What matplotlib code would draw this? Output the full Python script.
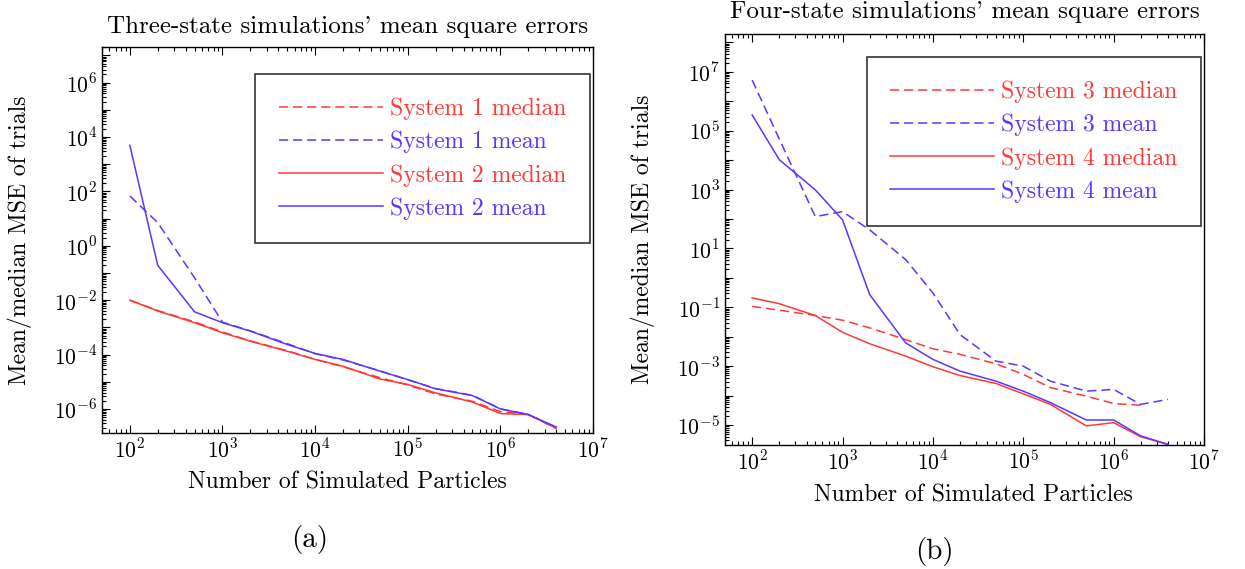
import numpy as np
import matplotlib
matplotlib.use('Agg')
import matplotlib.pyplot as plt
from matplotlib.ticker import FixedLocator, FuncFormatter, LogLocator, NullFormatter

plt.rcParams['font.family'] = ['cmr10', 'DejaVu Serif']
plt.rcParams['mathtext.fontset'] = 'cm'
plt.rcParams['axes.unicode_minus'] = False
plt.rcParams['axes.formatter.use_mathtext'] = True

# Number of simulated particles
particles = [1e2, 2e2, 5e2, 1e3, 2e3, 5e3, 1e4, 2e4, 5e4, 1e5, 2e5, 5e5, 1e6, 2e6, 4e6]

# Three-state system, log10 of MSE
sys1_median = [-2.0, -2.38, -2.80, -3.17, -3.50, -3.86, -4.18, -4.45, -4.85, -5.12, -5.45, -5.72, -6.10, -6.20, -6.70]
sys1_mean = [1.83, 0.85, -1.18, -2.81, -3.13, -3.60, -3.97, -4.20, -4.60, -4.93, -5.25, -5.50, -6.00, -6.20, -6.72]
sys2_median = [-2.0, -2.40, -2.83, -3.20, -3.51, -3.88, -4.18, -4.43, -4.90, -5.10, -5.41, -5.75, -6.17, -6.21, -6.70]
sys2_mean = [3.69, -0.72, -2.43, -2.83, -3.14, -3.63, -3.96, -4.18, -4.61, -4.92, -5.26, -5.51, -6.00, -6.21, -6.66]

# Four-state system, log10 of MSE
sys3_median = [-0.97, -1.10, -1.28, -1.44, -1.70, -2.10, -2.41, -2.60, -2.92, -3.28, -3.73, -4.02, -4.27, -4.33]
sys3_mean = [6.72, 4.71, 2.08, 2.25, 1.63, 0.62, -0.51, -1.93, -2.83, -3.00, -3.51, -3.85, -3.79, -4.30, -4.13]
sys4_median = [-0.68, -0.88, -1.28, -1.85, -2.24, -2.66, -3.02, -3.32, -3.59, -3.94, -4.30, -5.03, -4.92, -5.40, -5.66]
sys4_mean = [5.53, 4.01, 2.99, 1.97, -0.57, -2.21, -2.77, -3.17, -3.51, -3.85, -4.24, -4.83, -4.83, -5.37, -5.66]

RED = '#ff3838'
BLUE = '#5a36ff'
FS = 17
DASH = (0, (6, 3.2))

fig = plt.figure(figsize=(12.45, 5.69), dpi=100)
ax1 = fig.add_axes([0.0819, 0.239, 0.3944, 0.678])
ax2 = fig.add_axes([0.5823, 0.218, 0.3847, 0.722])


def style_axis(ax, ylim, label_parity):
    ax.set_xscale('log')
    ax.set_yscale('log')
    ax.set_xlim(50, 1e7)
    ax.set_ylim(*ylim)
    ax.xaxis.set_major_locator(FixedLocator([10.0 ** k for k in range(2, 8)]))
    ax.xaxis.set_minor_locator(LogLocator(base=10, subs=np.arange(2, 10), numticks=30))
    ax.xaxis.set_minor_formatter(NullFormatter())
    ax.xaxis.set_major_formatter(FuncFormatter(lambda v, p: r'$10^{%d}$' % round(np.log10(v))))
    ax.yaxis.set_major_locator(FixedLocator([10.0 ** k for k in range(-9, 10)]))
    ax.yaxis.set_minor_locator(LogLocator(base=10, subs=np.arange(2, 10), numticks=40))
    ax.yaxis.set_minor_formatter(NullFormatter())

    def yfmt(v, p):
        k = int(round(np.log10(v)))
        return r'$10^{%d}$' % k if k % 2 == label_parity else ''
    ax.yaxis.set_major_formatter(FuncFormatter(yfmt))
    ax.tick_params(which='both', direction='in', top=True, right=False, labelsize=15.5, width=0.8)
    ax.tick_params(which='major', length=6)
    ax.tick_params(which='minor', length=3)
    for s in ax.spines.values():
        s.set_linewidth(1.0)
    ax.set_xlabel('Number of Simulated Particles', fontsize=FS)
    ax.set_ylabel('Mean/median MSE of trials', fontsize=FS)


def add_legend(ax, anchor):
    leg = ax.legend(loc='upper right', bbox_to_anchor=anchor, fontsize=FS, frameon=True,
                    fancybox=False, edgecolor='black', handlelength=4.4, handletextpad=0.3,
                    labelspacing=0.45, borderpad=1.0, borderaxespad=0)
    leg.get_frame().set_linewidth(1.2)
    for line, text in zip(leg.get_lines(), leg.get_texts()):
        text.set_color(line.get_color())


p = np.array(particles)
ax1.plot(p, 10 ** np.array(sys1_median), color=RED, ls=DASH, lw=1.1, label='System 1 median')
ax1.plot(p, 10 ** np.array(sys1_mean), color=BLUE, ls=DASH, lw=1.1, label='System 1 mean')
ax1.plot(p, 10 ** np.array(sys2_median), color=RED, lw=1.1, label='System 2 median')
ax1.plot(p, 10 ** np.array(sys2_mean), color=BLUE, lw=1.1, label='System 2 mean')
style_axis(ax1, (1.3e-7, 2e7), 0)
ax1.xaxis.set_label_coords(0.5, -0.10)
ax1.yaxis.set_label_coords(-0.143, 0.5)
ax1.text(0.5, 1.052, "Three-state simulations' mean square errors", transform=ax1.transAxes,
         ha='center', va='center', fontsize=18)
add_legend(ax1, (0.994, 0.93))

ax2.plot(p[:len(sys3_median)], 10 ** np.array(sys3_median), color=RED, ls=DASH, lw=1.1, label='System 3 median')
ax2.plot(p, 10 ** np.array(sys3_mean), color=BLUE, ls=DASH, lw=1.1, label='System 3 mean')
ax2.plot(p, 10 ** np.array(sys4_median), color=RED, lw=1.1, label='System 4 median')
ax2.plot(p, 10 ** np.array(sys4_mean), color=BLUE, lw=1.1, label='System 4 mean')
style_axis(ax2, (2.1e-6, 1.9e8), 1)
ax2.xaxis.set_label_coords(0.518, -0.095)
ax2.yaxis.set_label_coords(-0.146, 0.5)
ax2.text(0.5, 1.053, "Four-state simulations' mean square errors", transform=ax2.transAxes,
         ha='center', va='center', fontsize=18)
add_legend(ax2, (0.994, 0.944))

fig.text(310 / 1245, 1 - 539 / 569, '(a)', ha='center', va='center', fontsize=21)
fig.text(934 / 1245, 1 - 551 / 569, '(b)', ha='center', va='center', fontsize=21)

fig.savefig('out.png', dpi=100)
